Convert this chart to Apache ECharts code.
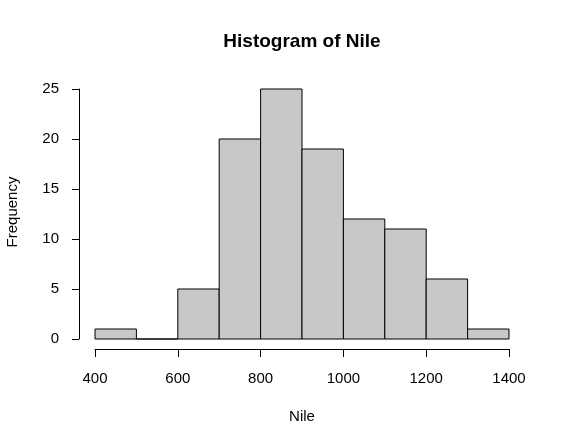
<!DOCTYPE html>
<html>
<head>
<meta charset="utf-8">
<script src="https://cdn.jsdelivr.net/npm/echarts@6/dist/echarts.min.js"></script>
<style>html,body{margin:0;padding:0;background:#fff}#c{width:566px;height:447px}</style>
</head>
<body>
<div id="c"></div>
<script>
var breaks = [400, 500, 600, 700, 800, 900, 1000, 1100, 1200, 1300, 1400];
var counts = [1, 0, 5, 20, 25, 19, 12, 11, 6, 1];
var xTicks = [400, 600, 800, 1000, 1200, 1400];
var yTicks = [0, 5, 10, 15, 20, 25];
var titleText = 'Histogram of Nile';
var xLabel = 'Nile';
var yLabel = 'Frequency';

var bins = counts.map(function (c, i) { return [breaks[i], breaks[i + 1], c]; });
var font = '"Liberation Sans", Arial, Helvetica, sans-serif';

var chart = echarts.init(document.getElementById('c'), null, {renderer: 'canvas'});
chart.setOption({
  animation: false,
  backgroundColor: '#ffffff',
  grid: {left: 95, right: 57, top: 89, bottom: 108, containLabel: false},
  xAxis: {
    type: 'value', min: 400, max: 1400, interval: 200, offset: 10,
    axisLine: {show: true, onZero: false, lineStyle: {color: '#000', width: 1}},
    axisTick: {show: true, length: 8, lineStyle: {color: '#000', width: 1}},
    axisLabel: {margin: 22, fontSize: 15, color: '#000', fontFamily: font,
      formatter: function (v) { return xTicks.indexOf(v) >= 0 ? String(v) : ''; }},
    splitLine: {show: false}
  },
  yAxis: {
    type: 'value', min: 0, max: 25, interval: 5, offset: 16,
    axisLine: {show: true, lineStyle: {color: '#000', width: 1}},
    axisTick: {show: true, length: 7, lineStyle: {color: '#000', width: 1}},
    axisLabel: {margin: 20, fontSize: 15, color: '#000', fontFamily: font,
      formatter: function (v) { return yTicks.indexOf(v) >= 0 ? String(v) : ''; }},
    splitLine: {show: false}
  },
  series: [{
    type: 'custom',
    data: bins,
    encode: {x: [0, 1], y: 2},
    renderItem: function (params, api) {
      var p0 = api.coord([api.value(0), api.value(2)]);
      var p1 = api.coord([api.value(1), 0]);
      return {
        type: 'rect',
        shape: {x: p0[0], y: p0[1], width: p1[0] - p0[0], height: p1[1] - p0[1]},
        style: {fill: '#c8c8c8', stroke: '#000', lineWidth: 1}
      };
    }
  }],
  graphic: [
    {type: 'text', x: 302, y: 42,
      style: {text: titleText, font: 'bold 19px ' + font, fill: '#000', textAlign: 'center', textVerticalAlign: 'middle'}},
    {type: 'text', x: 302, y: 417,
      style: {text: xLabel, font: '15px ' + font, fill: '#000', textAlign: 'center', textVerticalAlign: 'middle'}},
    {type: 'text', x: 13, y: 212, rotation: Math.PI / 2,
      style: {text: yLabel, font: '15px ' + font, fill: '#000', textAlign: 'center', textVerticalAlign: 'middle'}}
  ]
});
</script>
</body>
</html>
